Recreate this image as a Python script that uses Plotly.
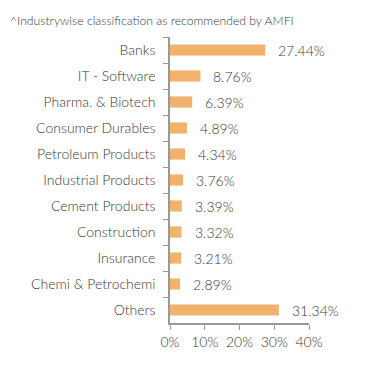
import plotly.graph_objects as go

categories = ["Banks", "IT - Software", "Pharma. & Biotech", "Consumer Durables",
              "Petroleum Products", "Industrial Products", "Cement Products",
              "Construction", "Insurance", "Chemi & Petrochemi", "Others"]
values = [27.44, 8.76, 6.39, 4.89, 4.34, 3.76, 3.39, 3.32, 3.21, 2.89, 31.34]
tick_vals = [0, 10, 20, 30, 40]
tick_text = ["0%", "10%", "20%", "30%", "40%"]
note = "^Industrywise classification as recommended by AMFI"

FONT = "Lato, 'Open Sans', sans-serif"
TXT = "#383838"

fig = go.Figure(go.Bar(
    x=values, y=categories, orientation="h",
    marker=dict(color="#F0B26C", line=dict(width=0)),
    width=0.43, hoverinfo="skip",
))

for c, v in zip(categories, values):
    fig.add_annotation(x=v, y=c, xref="x", yref="y", text=f"{v:.2f}%",
                       showarrow=False, xanchor="left", xshift=11,
                       font=dict(family=FONT, size=14, color=TXT, weight=300))

fig.add_annotation(x=0, y=1, xref="paper", yref="paper", text=note,
                   showarrow=False, xanchor="left", yanchor="middle",
                   xshift=-162, yshift=17,
                   font=dict(family=FONT, size=12.2, color=TXT, weight=300))

fig.update_layout(
    width=383, height=365,
    margin=dict(l=162, r=82, t=29, b=50),
    paper_bgcolor="white", plot_bgcolor="white",
    showlegend=False,
    font=dict(family=FONT, size=14, color=TXT, weight=300),
    xaxis=dict(range=[0, 40], tickvals=tick_vals, ticktext=tick_text,
               showgrid=False, zeroline=False, showline=True,
               linecolor="#999999", linewidth=1.5,
               ticks="outside", ticklen=5, tickcolor="#999999",
               tickfont=dict(family=FONT, size=14, color=TXT, weight=300)),
    yaxis=dict(autorange="reversed", categoryorder="array", categoryarray=categories,
               showgrid=False, zeroline=False, showline=True,
               linecolor="#999999", linewidth=1.5,
               ticks="outside", ticklen=5, tickcolor="#999999",
               tickson="boundaries", ticklabelstandoff=10,
               tickfont=dict(family=FONT, size=14, color=TXT, weight=300)),
)

fig.write_html("out.html")
